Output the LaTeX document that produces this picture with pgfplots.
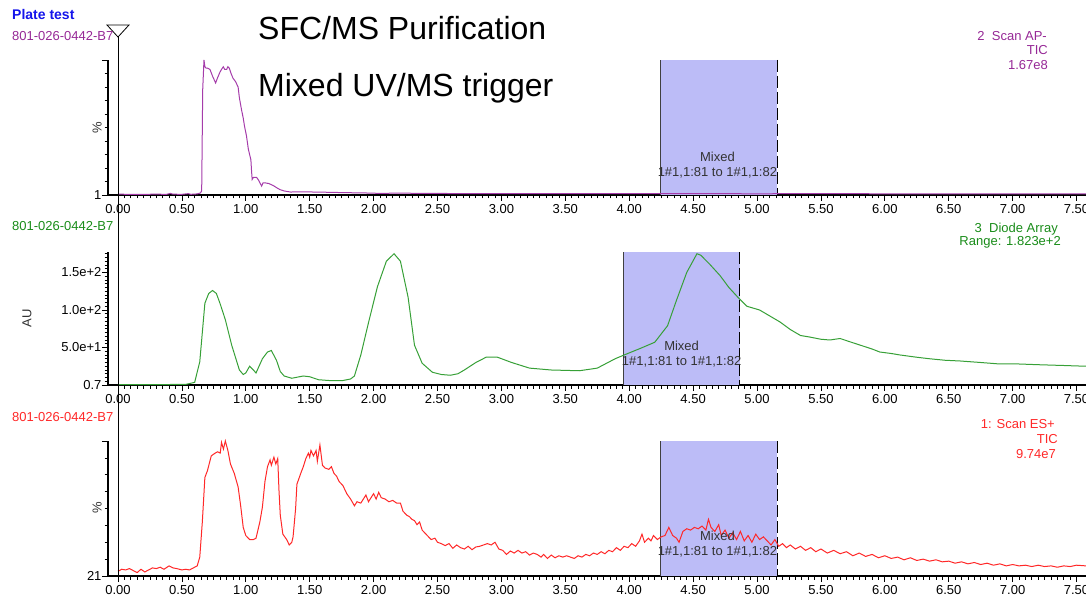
\documentclass[border=0pt]{standalone}
\usepackage{pgfplots}
\pgfplotsset{compat=1.18}
\usepackage{fontspec}
\setmainfont{Liberation Sans}
\definecolor{mspurple}{RGB}{165,60,170}
\definecolor{mspurpletext}{RGB}{150,40,150}
\definecolor{msgreen}{RGB}{55,160,55}
\definecolor{msgreentext}{RGB}{25,140,25}
\definecolor{msred}{RGB}{255,40,40}
\definecolor{msblue}{RGB}{20,20,235}
\definecolor{boxfill}{RGB}{188,188,247}
\newcommand{\smallfont}{\fontsize{13}{15}\selectfont}
\pgfplotsset{
 /pgf/number format/assume math mode=true,
 msaxis/.style={
  scale only axis, width=978pt,
  xmin=-0.078, xmax=7.574,
  axis lines=left,
  axis line style={-, black, line width=1.4pt},
  x axis line style={-}, y axis line style={-},
  tick align=outside,
  xtick={0,0.5,1,1.5,2,2.5,3,3.5,4,4.5,5,5.5,6,6.5,7,7.5},
  minor x tick num=9,
  major tick length=6pt, minor tick length=3.5pt,
  every tick/.style={black, line width=0.7pt},
  xticklabel style={/pgf/number format/.cd, fixed, fixed zerofill, precision=2},
  yticklabel style={xshift=3pt},
  ticklabel style={font=\smallfont},
  clip=false,
 }
}
\begin{document}
\begin{tikzpicture}
% ---------------- top panel ----------------
\begin{axis}[msaxis, height=135pt, at={(108pt,400pt)}, anchor=south west,
  ymin=0, ymax=100, ytick={0,100}, yticklabels={1,{}},
  minor ytick={10,20,30,40,50,60,70,80,90}]
\fill[boxfill] (axis cs:4.245,0) rectangle (axis cs:5.16,100);
\draw[black!75, line width=1pt] (axis cs:4.245,0) -- (axis cs:4.245,100);
\draw[black, line width=1pt, dash pattern=on 12pt off 4pt] (axis cs:5.16,100) -- (axis cs:5.16,0);
\addplot[mspurple, line width=1pt] coordinates {
(0.0,0.6) (0.1,0.5) (0.2,0.5) (0.3,0.6) (0.38,0.5) (0.41,1.2) (0.43,0.6) (0.5,0.5) (0.55,1.0) (0.57,0.5) (0.62,0.8) (0.645,1.5) (0.655,3) (0.663,78) (0.673,100) (0.68,95) (0.689,94) (0.70,94) (0.72,93) (0.74,88) (0.764,83) (0.78,87) (0.798,91) (0.81,93) (0.824,95) (0.835,93) (0.85,93) (0.86,95) (0.871,94) (0.885,90) (0.90,86.5) (0.92,84) (0.94,80) (0.95,72) (0.967,63) (0.98,57) (0.99,51) (1.005,44) (1.02,34) (1.03,30) (1.04,26) (1.045,18) (1.05,11.5) (1.06,13) (1.085,13) (1.10,11) (1.124,6.6) (1.135,9) (1.15,9) (1.18,8.5) (1.215,7) (1.24,5.5) (1.267,4) (1.30,3) (1.35,2.2) (1.45,2.4) (1.53,2.2) (1.65,2.0) (1.79,1.7) (1.9,1.6) (2.05,1.2) (2.2,1.4) (2.37,1.2) (2.6,1.1) (3.0,1.1) (3.5,1.0) (4.0,1.0) (4.5,1.0) (5.0,0.9) (5.5,1.0) (6.0,0.9) (6.5,0.9) (7.0,0.8) (7.574,0.8)};
\node[align=center, font=\smallfont, text=black!80, inner sep=0] at (axis cs:4.69,21.8) {Mixed\\1\#1,1:81 to 1\#1,1:82};
\node[rotate=90, font=\smallfont, text=black!80] at (rel axis cs:-0.0112,0.496) {\%};
\end{axis}
% ---------------- middle panel ----------------
\begin{axis}[msaxis, height=133pt, at={(108pt,210pt)}, anchor=south west,
  ymin=0, ymax=177.3, ytick={0,50,100,150}, yticklabels={0.7,5.0e+1,1.0e+2,1.5e+2},
  minor ytick={5,10,...,175}]
\fill[boxfill] (axis cs:3.955,0) rectangle (axis cs:4.865,177.3);
\draw[black!75, line width=1pt] (axis cs:3.955,0) -- (axis cs:3.955,177.3);
\draw[black, line width=1pt, dash pattern=on 12pt off 4pt] (axis cs:4.865,177.3) -- (axis cs:4.865,0);
\addplot[msgreen, line width=1pt] coordinates {
(0.00,0.5)(0.25,0.5)(0.53,0.8)(0.60,3.5)(0.64,31)(0.68,109)(0.71,122)(0.74,126)(0.77,122)(0.80,108)(0.84,87)(0.89,53)(0.95,20)(0.98,14)(1.00,16)(1.03,25)(1.06,20)(1.08,16)(1.13,35)(1.17,44)(1.20,46)(1.24,33)(1.27,18)(1.30,12)(1.36,9)(1.45,12)(1.50,11)(1.57,7)(1.65,6)(1.76,6)(1.82,8)(1.85,12)(1.90,40)(1.96,83)(2.03,131)(2.10,165)(2.16,175)(2.21,165)(2.27,117)(2.32,53)(2.38,29)(2.46,17)(2.53,14)(2.60,13)(2.66,15)(2.71,20)(2.80,30)(2.88,37)(2.97,37)(3.08,30)(3.22,22.5)(3.39,20)(3.61,19)(3.75,22.5)(3.89,35)(3.96,40)(4.09,49)(4.20,57)(4.30,79)(4.37,113)(4.45,150)(4.53,175)(4.56,173)(4.63,161)(4.71,146)(4.78,130)(4.85,117)(4.92,105)(5.02,100)(5.10,92)(5.18,84)(5.26,74)(5.34,66)(5.41,64)(5.50,61)(5.57,60)(5.65,62)(5.72,58)(5.81,53)(5.90,48)(5.96,44)(6.05,42)(6.12,40)(6.25,37)(6.35,35)(6.47,33)(6.59,32)(6.75,30)(6.90,28)(7.05,28)(7.21,27)(7.40,26)(7.574,25)};
\node[align=center, font=\smallfont, text=black!80, inner sep=0] at (axis cs:4.41,40.7) {Mixed\\1\#1,1:81 to 1\#1,1:82};
\node[rotate=90, font=\smallfont, text=black!80] at (rel axis cs:-0.0828,0.5) {AU};
\end{axis}
% ---------------- bottom panel ----------------
\begin{axis}[msaxis, height=135pt, at={(108pt,19pt)}, anchor=south west,
  ymin=0, ymax=100, ytick={0,100}, yticklabels={21,{}},
  minor ytick={12.5,25,37.5,50,62.5,75,87.5}]
\fill[boxfill] (axis cs:4.245,0) rectangle (axis cs:5.16,100);
\draw[black!75, line width=1pt] (axis cs:4.245,0) -- (axis cs:4.245,100);
\draw[black, line width=1pt, dash pattern=on 12pt off 4pt] (axis cs:5.16,100) -- (axis cs:5.16,0);
\addplot[msred, line width=1pt] coordinates {
(0.00,3.5)(0.03,5)(0.06,4.5)(0.09,5.5)(0.12,4)(0.15,2.5)(0.18,5)(0.21,3)(0.24,4.5)(0.27,6)(0.30,5.5)(0.33,6.5)(0.36,5)(0.40,7.5)(0.43,6)(0.46,5.5)(0.50,4.5)(0.53,5)(0.56,4.5)(0.59,6)(0.62,7.5)(0.64,14)(0.66,40)(0.68,73)(0.70,78)(0.73,89)(0.76,91)(0.78,92)(0.80,91)(0.81,99)(0.825,94)(0.84,100)(0.86,93)(0.88,83)(0.91,76)(0.94,66)(0.96,52)(0.98,36)(1.00,30)(1.03,27)(1.06,27)(1.08,28)(1.11,40)(1.13,51)(1.15,70)(1.17,81)(1.19,86)(1.20,82)(1.22,88)(1.235,83)(1.25,87)(1.26,63)(1.27,45)(1.29,31)(1.32,27)(1.34,23)(1.36,25)(1.37,29)(1.39,50)(1.40,68)(1.43,76)(1.45,81)(1.47,87)(1.49,91)(1.50,88)(1.51,93)(1.53,89)(1.55,93)(1.56,85)(1.58,97)(1.60,82)(1.62,80)(1.65,79)(1.67,81)(1.69,76)(1.71,74)(1.73,70)(1.76,67)(1.79,61)(1.82,57)(1.85,52)(1.87,55)(1.90,54)(1.92,57)(1.94,60)(1.96,55)(1.98,58)(2.00,61)(2.02,57)(2.04,62)(2.06,58)(2.09,57)(2.12,55)(2.15,56)(2.18,54)(2.21,54)(2.23,48)(2.26,45)(2.28,44)(2.30,42)(2.32,41)(2.34,38)(2.36,40)(2.38,34)(2.40,32)(2.42,30)(2.45,27)(2.48,28)(2.50,25)(2.53,24)(2.56,22.5)(2.59,24)(2.62,20.5)(2.65,23)(2.68,21)(2.71,20)(2.74,22)(2.77,19.5)(2.80,21.5)(2.83,22)(2.86,23)(2.89,24)(2.92,23)(2.95,25)(2.98,20)(3.01,19)(3.04,16)(3.07,18.5)(3.10,17)(3.13,19)(3.16,17)(3.19,18)(3.22,15.5)(3.25,17)(3.28,16)(3.31,14)(3.33,16)(3.36,13)(3.39,15.5)(3.42,13.5)(3.45,15)(3.48,14)(3.51,15)(3.54,14)(3.57,13)(3.60,15)(3.63,14)(3.66,16)(3.69,15)(3.72,17)(3.75,16)(3.78,18)(3.81,16.5)(3.84,19)(3.87,18)(3.90,21)(3.93,19)(3.96,22)(3.99,21)(4.02,24)(4.05,22)(4.08,26)(4.10,31)(4.12,25)(4.15,28)(4.17,26)(4.19,30)(4.22,27)(4.25,29)(4.28,30)(4.31,36)(4.34,30)(4.37,28)(4.39,25)(4.42,33)(4.45,35)(4.48,34)(4.51,36)(4.54,35)(4.57,37)(4.60,34)(4.62,42)(4.64,36)(4.67,33)(4.70,38)(4.72,30)(4.75,34)(4.78,28)(4.81,32)(4.84,27)(4.87,33)(4.90,26)(4.93,30)(4.96,25)(4.99,31)(5.02,27)(5.05,29)(5.08,26)(5.11,23)(5.14,27)(5.17,22)(5.20,24)(5.23,21)(5.26,23)(5.30,20)(5.34,22)(5.38,19)(5.42,21)(5.46,18)(5.50,20)(5.55,17)(5.60,19)(5.65,16.5)(5.70,18)(5.75,15)(5.80,17)(5.85,14.5)(5.90,16)(5.95,13.5)(6.00,15)(6.05,13)(6.10,14)(6.15,12)(6.20,13.5)(6.25,11.5)(6.30,12.5)(6.35,11)(6.40,12)(6.45,10.5)(6.50,11)(6.55,9.5)(6.60,10.5)(6.65,9)(6.70,10)(6.75,8.5)(6.80,9.5)(6.85,8)(6.90,9)(6.95,7.5)(7.00,8.5)(7.05,7.5)(7.10,8)(7.15,7)(7.20,8)(7.25,7)(7.30,7.5)(7.35,6.5)(7.40,7.5)(7.45,7)(7.50,8)(7.574,7.5)};
\node[align=center, font=\smallfont, text=black!80, inner sep=0] at (axis cs:4.69,23.3) {Mixed\\1\#1,1:81 to 1\#1,1:82};
\node[rotate=90, font=\smallfont, text=black!80] at (rel axis cs:-0.0112,0.504) {\%};
\end{axis}
% ---------------- overlays in pixel coordinates ----------------
\begin{scope}[x=1pt,y=-1pt,shift={(0pt,595pt)}]
\draw[black, line width=1pt] (118,31) -- (118,576);
\draw[black, fill=white, line width=0.8pt] (107,25) -- (129,25) -- (118,37) -- cycle;
\node[anchor=base west, inner sep=0, font=\bfseries\fontsize{14}{16}\selectfont, text=msblue] at (12,20) {Plate test};
\node[anchor=base west, inner sep=0, font=\smallfont, text=mspurpletext] at (12,41) {801-026-0442-B7};
\node[anchor=base west, inner sep=0, font=\smallfont, text=msgreentext] at (12,231) {801-026-0442-B7};
\node[anchor=base west, inner sep=0, font=\smallfont, text=msred] at (12,421) {801-026-0442-B7};
\node[anchor=base west, inner sep=0, font=\fontsize{32}{38}\selectfont] at (258,40) {SFC/MS Purification};
\node[anchor=base west, inner sep=0, font=\fontsize{32}{38}\selectfont] at (258,97) {Mixed UV/MS trigger};
\node[anchor=base east, inner sep=0, font=\smallfont, text=mspurpletext] at (1047,41) {2\ \ Scan AP-};
\node[anchor=base east, inner sep=0, font=\smallfont, text=mspurpletext] at (1048,55) {TIC};
\node[anchor=base east, inner sep=0, font=\smallfont, text=mspurpletext] at (1048,70) {1.67e8};
\node[anchor=base east, inner sep=0, font=\smallfont, text=msgreentext] at (1058,233) {3\ \ Diode Array};
\node[anchor=base east, inner sep=0, font=\smallfont, text=msgreentext] at (1061,246) {Range: 1.823e+2};
\node[anchor=base east, inner sep=0, font=\smallfont, text=msred] at (1055,428) {1: Scan ES+};
\node[anchor=base east, inner sep=0, font=\smallfont, text=msred] at (1058,443) {TIC};
\node[anchor=base east, inner sep=0, font=\smallfont, text=msred] at (1056,458) {9.74e7};
\end{scope}
\pgfresetboundingbox
\path[use as bounding box] (0pt,0pt) rectangle (1086pt,595pt);
\end{tikzpicture}
\end{document}
